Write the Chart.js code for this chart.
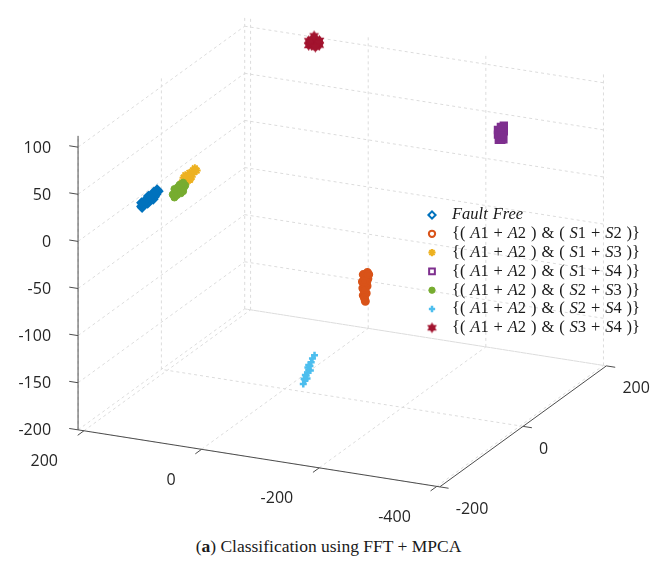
<!DOCTYPE html>
<html lang="en">
  <head>
    <meta charset="UTF-8" />
    <title>Classification using FFT + MPCA</title>
    <script src="https://cdn.jsdelivr.net/npm/chart.js"></script>
    <style>
      * {
        margin: 0;
        padding: 0;
        box-sizing: border-box;
      }

      body {
        background-color: #ffffff;
        width: 657px;
        height: 573px;
        overflow: hidden;
        position: relative;
      }

      #plot {
        display: block;
      }

      .caption {
        position: absolute;
        left: 0;
        top: 536px;
        width: 657px;
        text-align: center;
        font-family: "Liberation Serif", serif;
        font-size: 17.5px;
        color: #1a1a1a;
      }
    </style>
  </head>
  <body>
    <canvas id="plot" width="657" height="530"></canvas>
    <div class="caption">(<b>a</b>) Classification using FFT + MPCA</div>

    <script>
      // Axis limits and ticks
      var xLim = [-405, 210];
      var yLim = [-200, 200];
      var zLim = [-200, 112];
      var xTicks = [200, 0, -200, -400];
      var yTicks = [-200, 0, 200];
      var zTicks = [-200, -150, -100, -50, 0, 50, 100];

      var seriesNames = [
        "Fault Free",
        "{( A1 + A2 ) & ( S1 + S2 )}",
        "{( A1 + A2 ) & ( S1 + S3 )}",
        "{( A1 + A2 ) & ( S1 + S4 )}",
        "{( A1 + A2 ) & ( S2 + S3 )}",
        "{( A1 + A2 ) & ( S2 + S4 )}",
        "{( A1 + A2 ) & ( S3 + S4 )}",
      ];

      // Cluster points [x, y, z]
      var faultFree = [
        [149, -134, 22], [151, -128, 22.4], [148, -122, 22.7], [152, -116, 23.1], [150, -110, 23.4], [149, -104, 23.8], [151, -98, 24.2], [150, -92, 24.5],
        [150, -131, 19.6], [152, -125, 20], [149, -119, 20.3], [151, -113, 20.7], [148, -107, 21], [150, -101, 21.4], [152, -95, 21.7],
        [151, -131, 24.8], [149, -125, 25.2], [150, -119, 25.5], [152, -113, 25.9], [149, -107, 26.2], [151, -101, 26.6], [150, -95, 27],
      ];
      var s1s2 = [
        [-100, 47, -84], [-100, 57, -85], [-100, 52, -88], [-100, 45, -91], [-100, 58, -92], [-100, 51, -95],
        [-100, 46, -98], [-100, 56, -99], [-100, 50, -102], [-100, 47, -106], [-100, 54, -106], [-100, 50, -110],
        [-100, 52, -114], [-100, 48, -100], [-100, 53, -90], [-100, 60, -88], [-100, 55, -95], [-100, 49, -92],
      ];
      var s1s3 = [
        [100, -106, 43], [99, -100, 43.3], [101, -94, 43.6], [100, -88, 44], [102, -82, 44.4], [100, -76, 44.8], [99, -72, 45],
        [101, -102, 39.8], [100, -95, 40.2], [99, -88, 40.5], [101, -81, 41],
        [100, -102, 46.8], [102, -95, 47.2], [100, -88, 47.5], [99, -81, 48], [100, -75, 48.3],
      ];
      var s1s4 = [
        [-300, 88, 76], [-300, 95, 77], [-300, 102, 76], [-300, 88, 71], [-300, 95, 71], [-300, 102, 70],
        [-300, 90, 65], [-300, 96, 63], [-300, 101, 62], [-300, 93, 68], [-300, 98, 73], [-300, 99, 66],
      ];
      var s2s3 = [
        [100, -128, 37.5], [99, -122, 37.5], [101, -116, 37.5], [100, -110, 37.5], [98, -104, 37.5], [100, -98, 37.5],
        [100, -124, 33], [101, -117, 33], [99, -110, 33], [100, -103, 33],
        [100, -124, 42], [99, -117, 42], [101, -110, 42], [100, -103, 42],
      ];
      var s2s4 = [
        [-100, -97, -154], [-100, -95, -149], [-100, -93, -151], [-100, -90, -147], [-100, -88, -151],
        [-100, -87, -145], [-100, -84, -143], [-100, -84, -138], [-100, -81, -140], [-100, -80, -145],
        [-100, -78, -137], [-100, -75, -134], [-100, -70, -132], [-100, -92, -146], [-100, -86, -140],
      ];
      var s3s4 = [
        [80, 170, 102], [80, 170, 107], [80, 177, 100], [80, 177, 106], [80, 183, 98], [80, 183, 104],
        [80, 189, 96], [80, 189, 102], [80, 196, 94], [80, 196, 99], [80, 180, 103], [80, 186, 100],
        [80, 174, 104], [80, 192, 98], [80, 183, 108], [80, 186, 95],
      ];

      var seriesPoints = [faultFree, s1s2, s1s3, s1s4, s2s3, s2s4, s3s4];
      var seriesColors = ["#0072BD", "#D95319", "#EDB120", "#7E2F8E", "#77AC30", "#4DBEEE", "#A2142F"];

      // hexagram marker
      function makeHexagram(color, r) {
        var c = document.createElement("canvas");
        var s = Math.ceil(r * 2 + 2);
        c.width = s;
        c.height = s;
        var g = c.getContext("2d");
        g.fillStyle = color;
        [-90, 90].forEach(function (start) {
          g.beginPath();
          for (var k = 0; k < 3; k++) {
            var a = ((start + k * 120) * Math.PI) / 180;
            var px = s / 2 + r * Math.cos(a);
            var py = s / 2 + r * Math.sin(a);
            if (k === 0) g.moveTo(px, py);
            else g.lineTo(px, py);
          }
          g.closePath();
          g.fill();
        });
        return c;
      }

      // packed clusters are drawn solid; the legend keeps the open marker outline
      var markerStyles = [
        { pointStyle: "rectRot", radius: 4, borderWidth: 2, open: true },
        { pointStyle: "circle", radius: 3.5, borderWidth: 2, open: true },
        { pointStyle: "star", radius: 4, borderWidth: 2, open: false },
        { pointStyle: "rect", radius: 4.5, borderWidth: 2, open: true },
        { pointStyle: "circle", radius: 3.5, borderWidth: 1, open: false },
        { pointStyle: "cross", radius: 3.5, borderWidth: 2.5, open: false },
        { pointStyle: makeHexagram("#A2142F", 5.5), radius: 6, borderWidth: 0, open: false },
      ];

      // orthographic view: pixel of (xMax, yMin, zMin) and pixel step per data unit
      var view = {
        ox: 73,
        oy: 434,
        ex: [-0.6, -0.095],
        ey: [0.425, -0.31],
        ez: [0, -0.966],
      };

      function project(p) {
        var dx = p[0] - xLim[1];
        var dy = p[1] - yLim[0];
        var dz = p[2] - zLim[0];
        return {
          x: view.ox + dx * view.ex[0] + dy * view.ey[0] + dz * view.ez[0],
          y: view.oy + dx * view.ex[1] + dy * view.ey[1] + dz * view.ez[1],
        };
      }

      var datasets = [];

      function addSegment(a, b, color, dash, width, order) {
        datasets.push({
          data: [project(a), project(b)],
          showLine: true,
          borderColor: color,
          borderDash: dash,
          borderWidth: width,
          pointRadius: 0,
          fill: false,
          order: order,
        });
      }

      // grid on the back walls and floor
      var gridColor = "#dcdcdc";
      var dash = [3, 3];
      zTicks.forEach(function (z) {
        addSegment([xLim[1], yLim[0], z], [xLim[1], yLim[1], z], gridColor, dash, 1, 1000);
        addSegment([xLim[1], yLim[1], z], [xLim[0], yLim[1], z], gridColor, dash, 1, 1000);
      });
      yTicks.forEach(function (y) {
        addSegment([xLim[1], y, zLim[0]], [xLim[1], y, zLim[1]], gridColor, dash, 1, 1000);
        addSegment([xLim[0], y, zLim[0]], [xLim[1], y, zLim[0]], gridColor, dash, 1, 1000);
      });
      xTicks.forEach(function (x) {
        addSegment([x, yLim[1], zLim[0]], [x, yLim[1], zLim[1]], gridColor, dash, 1, 1000);
        addSegment([x, yLim[0], zLim[0]], [x, yLim[1], zLim[0]], gridColor, dash, 1, 1000);
      });

      // axis lines and tick marks
      var axisColor = "#4d4d4d";
      addSegment([xLim[1], yLim[0], zLim[0]], [xLim[1], yLim[0], zLim[1]], axisColor, [], 1, 900);
      addSegment([xLim[1], yLim[0], zLim[0]], [xLim[0], yLim[0], zLim[0]], axisColor, [], 1, 900);
      addSegment([xLim[0], yLim[0], zLim[0]], [xLim[0], yLim[1], zLim[0]], axisColor, [], 1, 900);
      zTicks.forEach(function (z) {
        addSegment([xLim[1], yLim[0], z], [xLim[1] + 15, yLim[0], z], axisColor, [], 1, 900);
      });
      xTicks.forEach(function (x) {
        addSegment([x, yLim[0], zLim[0]], [x, yLim[0] - 15, zLim[0]], axisColor, [], 1, 900);
      });
      yTicks.forEach(function (y) {
        addSegment([xLim[0], y, zLim[0]], [xLim[0] - 15, y, zLim[0]], axisColor, [], 1, 900);
      });

      // scatter series, later series drawn on top
      seriesPoints.forEach(function (pts, i) {
        var st = markerStyles[i];
        datasets.push({
          label: seriesNames[i],
          data: pts.map(project),
          isSeries: true,
          openMarker: st.open,
          pointStyle: st.pointStyle,
          pointRadius: st.radius,
          pointBorderWidth: st.borderWidth,
          pointBorderColor: seriesColors[i],
          pointBackgroundColor: seriesColors[i],
          showLine: false,
          order: 100 - i,
        });
      });

      // tick labels along the three axes
      var axisLabels = {
        id: "axisLabels",
        afterDatasetsDraw: function (chart) {
          var ctx = chart.ctx;
          var sx = chart.scales.x;
          var sy = chart.scales.y;
          function pix(p) {
            var q = project(p);
            return [sx.getPixelForValue(q.x), sy.getPixelForValue(q.y)];
          }
          ctx.save();
          ctx.fillStyle = "#262626";
          ctx.font = '16px "Open Sans"';
          ctx.textBaseline = "middle";

          ctx.textAlign = "right";
          zTicks.forEach(function (z) {
            var p = pix([xLim[1], yLim[0], z]);
            ctx.fillText(String(z), p[0] - 27, p[1] + 1);
          });
          xTicks.forEach(function (x) {
            var p = pix([x, yLim[0], zLim[0]]);
            ctx.fillText(String(x), p[0] - 26, p[1] + 31);
          });
          ctx.textAlign = "left";
          yTicks.forEach(function (y) {
            var p = pix([xLim[0], y, zLim[0]]);
            ctx.fillText(String(y), p[0] + 16, p[1] + 23);
          });
          ctx.restore();
        },
      };

      // legend inside the axes box, math letters in italic
      var legendBox = { markerX: 432, textX: 452, top: 215, rowGap: 18.8, textWidth: 188 };

      var insideLegend = {
        id: "insideLegend",
        afterDatasetsDraw: function (chart) {
          var ctx = chart.ctx;
          var upright = '16.5px "Liberation Serif"';
          var italic = 'italic 16.5px "Liberation Serif"';
          ctx.save();

          function runs(label) {
            var out = [];
            for (var k = 0; k < label.length; k++) {
              var ch = label[k];
              var kind = ch === " " ? "space" : /[A-Za-z]/.test(ch) ? "it" : "up";
              var last = out[out.length - 1];
              if (last && last.kind === kind && kind !== "space") last.text += ch;
              else out.push({ kind: kind, text: ch });
            }
            return out;
          }
          function inkWidth(rs) {
            var w = 0;
            rs.forEach(function (r) {
              if (r.kind === "space") return;
              ctx.font = r.kind === "it" ? italic : upright;
              w += ctx.measureText(r.text).width;
            });
            return w;
          }

          var longest = runs(seriesNames[1]);
          var gaps = longest.filter(function (r) { return r.kind === "space"; }).length;
          var spaceW = (legendBox.textWidth - inkWidth(longest)) / gaps;

          var series = chart.data.datasets.filter(function (d) { return d.isSeries; });
          series.forEach(function (d, i) {
            var y = legendBox.top + i * legendBox.rowGap;
            ctx.fillStyle = d.openMarker ? "#ffffff" : d.pointBackgroundColor;
            ctx.strokeStyle = d.pointBorderColor;
            ctx.lineWidth = d.pointBorderWidth;
            Chart.helpers.drawPoint(
              ctx,
              { pointStyle: d.pointStyle, radius: d.pointRadius * 0.9, rotation: 0, borderWidth: d.pointBorderWidth },
              legendBox.markerX,
              y
            );

            ctx.fillStyle = "#1a1a1a";
            ctx.textBaseline = "middle";
            ctx.textAlign = "left";
            var x = legendBox.textX;
            runs(d.label).forEach(function (r) {
              if (r.kind === "space") {
                x += spaceW;
                return;
              }
              ctx.font = r.kind === "it" ? italic : upright;
              ctx.fillText(r.text, x, y);
              x += ctx.measureText(r.text).width;
            });
          });
          ctx.restore();
        },
      };

      var ctxPlot = document.getElementById("plot").getContext("2d");
      new Chart(ctxPlot, {
        type: "scatter",
        data: { datasets: datasets },
        options: {
          responsive: false,
          maintainAspectRatio: false,
          animation: false,
          events: [],
          layout: { padding: 0 },
          scales: {
            x: { type: "linear", min: 0, max: 657, display: false },
            y: { type: "linear", min: 0, max: 530, reverse: true, display: false },
          },
          plugins: {
            legend: { display: false },
            tooltip: { enabled: false },
          },
        },
        plugins: [axisLabels, insideLegend],
      });
    </script>
  </body>
</html>
